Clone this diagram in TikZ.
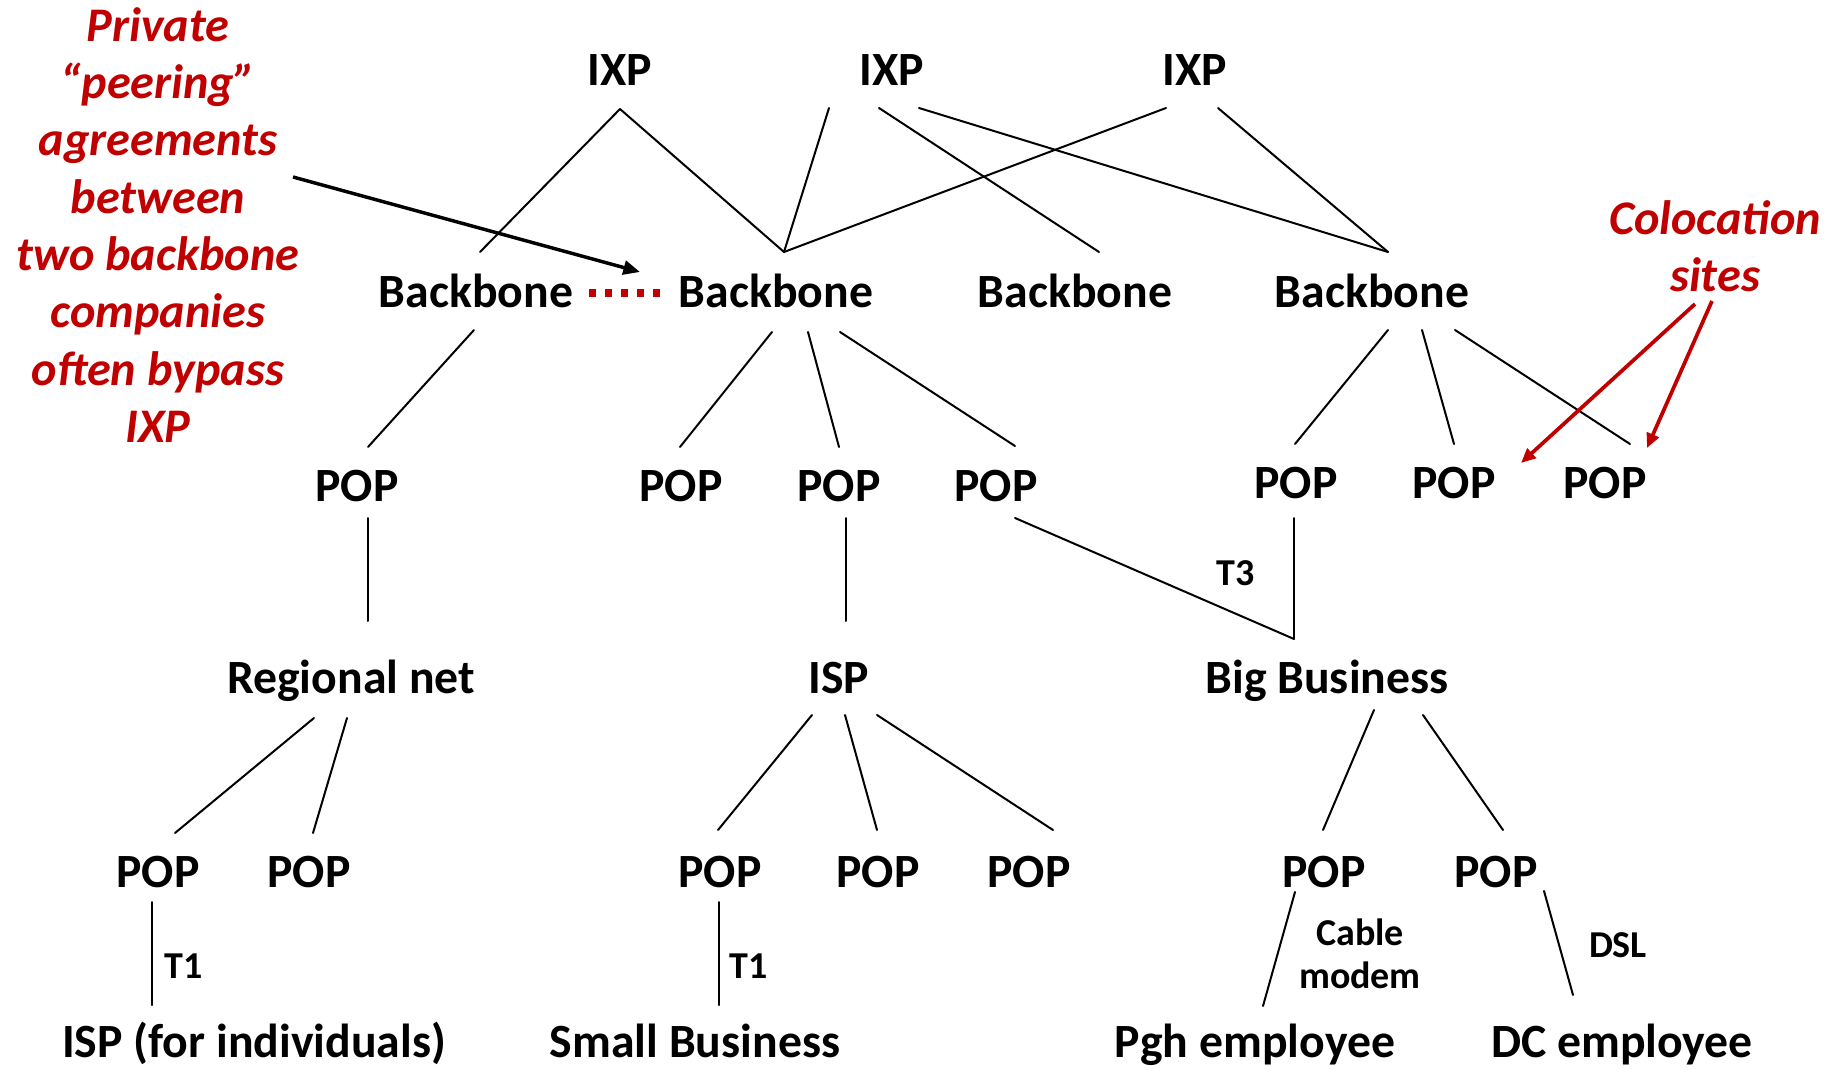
\documentclass[tikz,border=0pt]{standalone}
\usepackage{fontspec}
\setmainfont{Carlito}
\usetikzlibrary{calc,arrows.meta}
\definecolor{darkred}{RGB}{192,0,0}
\begin{document}
\begin{tikzpicture}[x=0.75pt,y=-0.75pt,
  lbl/.style={inner sep=0pt,font=\fontsize{35.8pt}{42pt}\selectfont\bfseries,text height=23pt,text depth=0pt},
  small/.style={inner sep=0pt,font=\fontsize{28.5pt}{32.3pt}\selectfont\bfseries,text height=18.4pt,text depth=0pt},
  note/.style={inner sep=0pt,align=center,text=darkred,font=\fontsize{36.2pt}{43pt}\selectfont\bfseries\itshape},
  link/.style={line width=1.5pt,line cap=round},
  callout/.style={line width=2.8pt,darkred,-{Triangle[length=11pt,width=9.5pt]}},
  pointer/.style={line width=2.6pt,black,-{Triangle[length=12.5pt,width=10.5pt]}},
  peering/.style={line width=5.6pt,darkred,dash pattern=on 5.6pt off 6.4pt}]
\useasboundingbox (0,0) rectangle (1835,1070);

% IXPs
\node[lbl] (ixp1) at (620,70) {IXP};
\node[lbl] (ixp2) at (892,70) {IXP};
\node[lbl] (ixp3) at (1195,70) {IXP};
% Backbones
\node[lbl] (bb1) at (476,292) {Backbone};
\node[lbl] (bb2) at (776,292) {Backbone};
\node[lbl] (bb3) at (1075,292) {Backbone};
\node[lbl] (bb4) at (1372,292) {Backbone};
% POP row 1
\node[lbl] (pop1) at (357,486) {POP};
\node[lbl] (pop2) at (681,486) {POP};
\node[lbl] (pop3) at (839,486) {POP};
\node[lbl] (pop4) at (996,486) {POP};
\node[lbl] (pop5) at (1296,483) {POP};
\node[lbl] (pop6) at (1454,483) {POP};
\node[lbl] (pop7) at (1605,483) {POP};
% middle row
\node[lbl] (regional) at (351,678) {Regional net};
\node[lbl] (isp) at (839,678) {ISP};
\node[lbl] (bigbiz) at (1327,678) {Big Business};
% POP row 2
\node[lbl] (pop8) at (158,872) {POP};
\node[lbl] (pop9) at (309,872) {POP};
\node[lbl] (pop10) at (720,872) {POP};
\node[lbl] (pop11) at (878,872) {POP};
\node[lbl] (pop12) at (1029,872) {POP};
\node[lbl] (pop13) at (1324,872) {POP};
\node[lbl] (pop14) at (1496,872) {POP};
% bottom
\node[lbl] (ispind) at (254,1042) {ISP (for individuals)};
\node[lbl] (smallbiz) at (695,1042) {Small Business};
\node[lbl] (pgh) at (1255,1042) {Pgh employee};
\node[lbl] (dc) at (1622,1042) {DC employee};
% small labels
\node[small] (t1a) at (184,966) {T1};
\node[small] (t1b) at (749,966) {T1};
\node[small] (t3) at (1236,573) {T3};
\node[small,align=center,text height=,text depth=] (cable) at (1360,954) {Cable\\modem};
\node[small] (dsl) at (1618,945) {DSL};
% notes
\node[note] (private) at (158,225) {Private\\“peering”\\agreements\\between\\two backbone\\companies\\often bypass\\IXP};
\node[note,font=\fontsize{36.2pt}{42.4pt}\selectfont\bfseries\itshape] (coloc) at (1715,246) {Colocation\\sites};

% IXP links
\draw[link] ($(ixp1)+(0,39)$) -- ($(bb1)+(4,-40)$);
\draw[link] ($(ixp1)+(0,39)$) -- ($(bb2)+(8,-40)$);
\draw[link] ($(ixp2)+(-63,38)$) -- ($(bb2)+(8,-40)$);
\draw[link] ($(ixp2)+(-13,38)$) -- ($(bb3)+(24,-40)$);
\draw[link] ($(ixp2)+(27,38)$) -- ($(bb4)+(16,-40)$);
\draw[link] ($(ixp3)+(-29,38)$) -- ($(bb2)+(8,-40)$);
\draw[link] ($(ixp3)+(23,38)$) -- ($(bb4)+(16,-40)$);
% backbone to POPs
\draw[link] ($(bb1)+(-2,38)$) -- ($(pop1)+(11,-39)$);
\draw[link] ($(bb2)+(-4,40)$) -- ($(pop2)+(-1,-39)$);
\draw[link] ($(bb2)+(32,40)$) -- ($(pop3)+(0,-39)$);
\draw[link] ($(bb2)+(64,40)$) -- ($(pop4)+(19,-40)$);
\draw[link] ($(bb4)+(16,38)$) -- ($(pop5)+(-1,-39)$);
\draw[link] ($(bb4)+(50,38)$) -- ($(pop6)+(0,-39)$);
\draw[link] ($(bb4)+(83,38)$) -- ($(pop7)+(25,-39)$);
% POPs to middle row
\draw[link] ($(pop1)+(11,32)$) -- ($(regional)+(17,-57)$);
\draw[link] ($(pop3)+(7,32)$) -- ($(isp)+(7,-57)$);
\draw[link] ($(pop4)+(19,32)$) -- ($(bigbiz)+(-33,-39)$);
\draw[link] ($(pop5)+(-2,35)$) -- ($(bigbiz)+(-33,-39)$);
% middle row to POP row 2
\draw[link] ($(regional)+(-37,40)$) -- ($(pop8)+(17,-39)$);
\draw[link] ($(regional)+(-4,40)$) -- ($(pop9)+(4,-39)$);
\draw[link] ($(isp)+(-27,37)$) -- ($(pop10)+(-2,-42)$);
\draw[link] ($(isp)+(6,37)$) -- ($(pop11)+(-1,-42)$);
\draw[link] ($(isp)+(38,37)$) -- ($(pop12)+(24,-42)$);
\draw[link] ($(bigbiz)+(47,32)$) -- ($(pop13)+(-1,-42)$);
\draw[link] ($(bigbiz)+(96,37)$) -- ($(pop14)+(7,-42)$);
% POP row 2 to bottom
\draw[link] ($(pop8)+(-6,30)$) -- ($(ispind)+(-102,-37)$);
\draw[link] ($(pop10)+(-1,30)$) -- ($(smallbiz)+(24,-37)$);
\draw[link] ($(pop13)+(-29,20)$) -- ($(pgh)+(8,-36)$);
\draw[link] ($(pop14)+(48,19)$) -- ($(dc)+(-49,-47)$);

% peering
\draw[peering] ($(bb1)+(113,1)$) -- ($(bb2)+(-112,1)$);
% annotation arrows
\draw[pointer] ($(private)+(135,-48)$) -- ($(bb2)+(-136,-20)$);
\draw[callout] ($(coloc)+(-20,58)$) -- ($(pop6)+(67,-20)$);
\draw[callout] ($(coloc)+(-3,55)$) -- ($(pop7)+(42,-35)$);
\end{tikzpicture}
\end{document}
